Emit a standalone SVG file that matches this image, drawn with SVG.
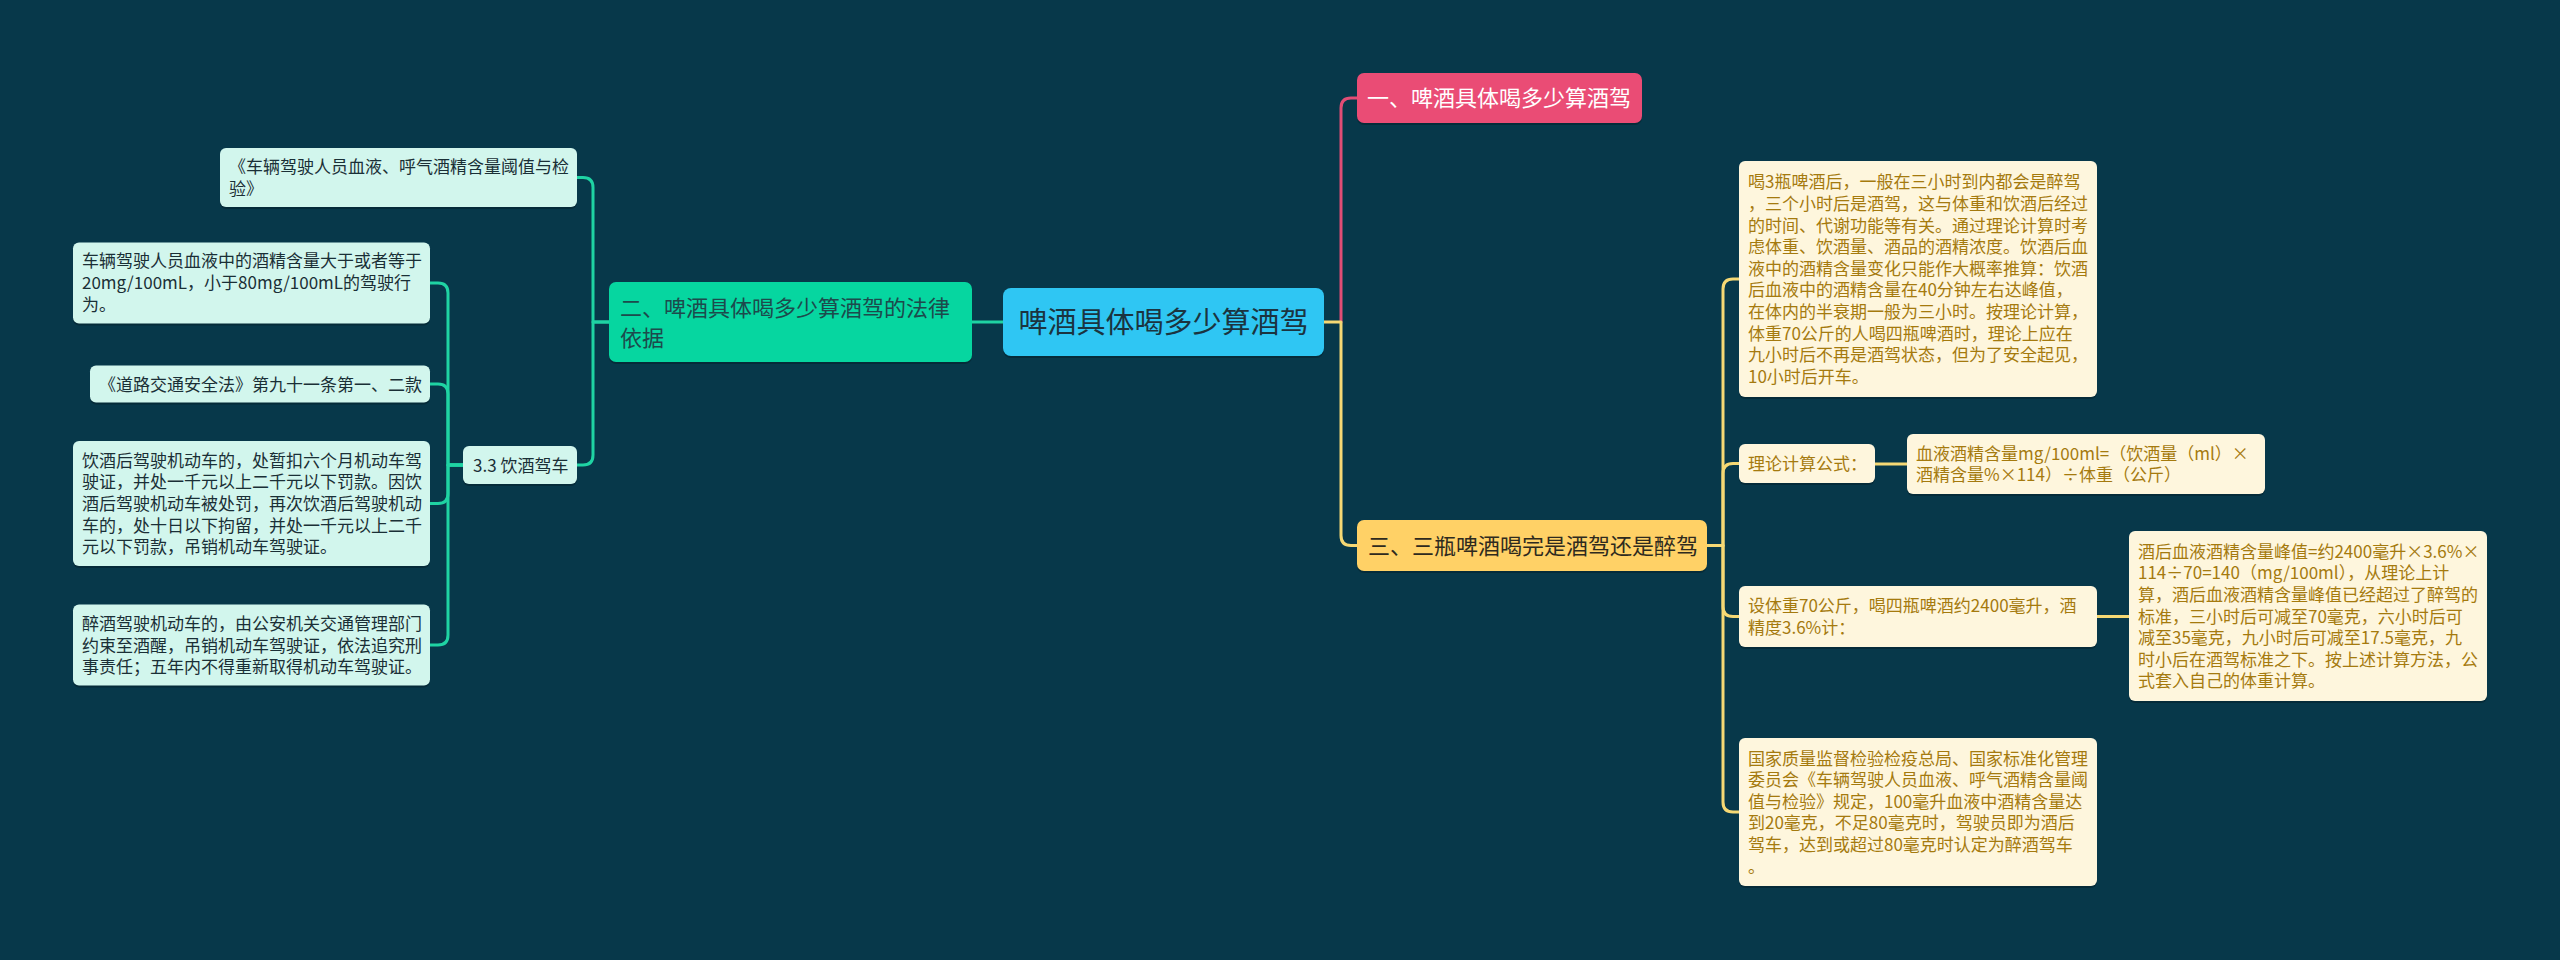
<svg xmlns="http://www.w3.org/2000/svg" width="2560" height="960" viewBox="0 0 2560 960">
<defs>
<style>
text{font-family:"Noto Sans CJK SC","Noto Sans",sans-serif;}
.shadow{fill:#000;opacity:0.22;}
.center rect.box{fill:#2fc6f3;}
.center text{font-size:29px;fill:#1b3440;}
.pink rect.box{fill:#ea4c75;}
.pink text{font-size:22px;fill:#ffffff;}
.green rect.box{fill:#06d6a0;}
.green text{font-size:22px;fill:#1d4a4c;}
.yellow rect.box{fill:#ffd166;}
.yellow text{font-size:22px;fill:#2e2a1e;}
.mint rect.box{fill:#d2f6ed;}
.mint text{font-size:17px;fill:#1a2f36;}
.cream rect.box{fill:#fef6dd;}
.cream text{font-size:17px;fill:#a57a0e;}
.conn path{fill:none;stroke-width:3;stroke-linecap:round;stroke-linejoin:round;}
.c-teal{stroke:#1fd3a3;}
.c-pink{stroke:#e04d75;}
.c-yel{stroke:#f5d874;}
</style>
</defs>
<rect x="0" y="0" width="2560" height="960" fill="#07384a"/>

<g id="connectors" class="conn">
<path class="c-teal" d="M1003,322 H972"/>
<path class="c-teal" d="M609,322 H593 V187.5 Q593,177.5 583,177.5 H577"/>
<path class="c-teal" d="M609,322 H593 V455 Q593,465 583,465 H577"/>
<path class="c-teal" d="M463,465 H448 V293 Q448,283 438,283 H430"/>
<path class="c-teal" d="M463,465 H448 V394 Q448,384 438,384 H430"/>
<path class="c-teal" d="M463,465 H448 V493.5 Q448,503.5 438,503.5 H430"/>
<path class="c-teal" d="M463,465 H448 V635 Q448,645 438,645 H430"/>
<path class="c-pink" d="M1341,322 V108 Q1341,98 1351,98 H1357"/>
<path class="c-yel" d="M1324,322 H1341 V535.5 Q1341,545.5 1351,545.5 H1357"/>
<path class="c-yel" d="M1707,545.5 H1723 V289 Q1723,279 1733,279 H1739"/>
<path class="c-yel" d="M1707,545.5 H1723 V473.5 Q1723,463.5 1733,463.5 H1739"/>
<path class="c-yel" d="M1707,545.5 H1723 V606.5 Q1723,616.5 1733,616.5 H1739"/>
<path class="c-yel" d="M1707,545.5 H1723 V802 Q1723,812 1733,812 H1739"/>
<path class="c-yel" d="M1875,464 H1907"/>
<path class="c-yel" d="M2097,616.5 H2129"/>
</g>

<g id="node-center" class="center">
<rect class="shadow" x="1003" y="290" width="321" height="68" rx="8"/>
<rect class="box" x="1003" y="288" width="321" height="68" rx="8"/>
<text x="1163.5" y="333" text-anchor="middle">啤酒具体喝多少算酒驾</text>
</g>

<g id="node-1" class="pink">
<rect class="shadow" x="1357" y="75" width="285" height="50" rx="7"/>
<rect class="box" x="1357" y="73" width="285" height="50" rx="7"/>
<text x="1367" y="106.4">一、啤酒具体喝多少算酒驾</text>
</g>

<g id="node-2" class="green">
<rect class="shadow" x="609" y="284" width="363" height="80" rx="7"/>
<rect class="box" x="609" y="282" width="363" height="80" rx="7"/>
<text x="620" y="316">二、啤酒具体喝多少算酒驾的法律</text>
<text x="620" y="345.5">依据</text>
</g>

<g id="node-3" class="yellow">
<rect class="shadow" x="1357" y="522" width="350" height="51" rx="7"/>
<rect class="box" x="1357" y="520" width="350" height="51" rx="7"/>
<text x="1368" y="554">三、三瓶啤酒喝完是酒驾还是醉驾</text>
</g>

<g id="node-2-1" class="mint">
<rect class="shadow" x="220" y="150" width="357" height="59" rx="6"/>
<rect class="box" x="220" y="148" width="357" height="59" rx="6"/>
<text x="229" y="173.2">《车辆驾驶人员血液、呼气酒精含量阈值与检</text>
<text x="229" y="194.9">验》</text>
</g>

<g id="node-2-2" class="mint">
<rect class="shadow" x="463" y="448" width="114" height="38" rx="6"/>
<rect class="box" x="463" y="446" width="114" height="38" rx="6"/>
<text x="473" y="471.5">3.3 饮酒驾车</text>
</g>

<g id="node-2-2-1" class="mint">
<rect class="shadow" x="73" y="244.5" width="357" height="81" rx="6"/>
<rect class="box" x="73" y="242.5" width="357" height="81" rx="6"/>
<text x="82" y="267.3">车辆驾驶人员血液中的酒精含量大于或者等于</text>
<text x="82" y="289">20mg/100mL，小于80mg/100mL的驾驶行</text>
<text x="82" y="310.7">为。</text>
</g>

<g id="node-2-2-2" class="mint">
<rect class="shadow" x="90" y="367.5" width="340" height="37" rx="6"/>
<rect class="box" x="90" y="365.5" width="340" height="37" rx="6"/>
<text x="99" y="390.5">《道路交通安全法》第九十一条第一、二款</text>
</g>

<g id="node-2-2-3" class="mint">
<rect class="shadow" x="73" y="443" width="357" height="125" rx="6"/>
<rect class="box" x="73" y="441" width="357" height="125" rx="6"/>
<text x="82" y="466.6">饮酒后驾驶机动车的，处暂扣六个月机动车驾</text>
<text x="82" y="488.3">驶证，并处一千元以上二千元以下罚款。因饮</text>
<text x="82" y="510">酒后驾驶机动车被处罚，再次饮酒后驾驶机动</text>
<text x="82" y="531.7">车的，处十日以下拘留，并处一千元以上二千</text>
<text x="82" y="553.4">元以下罚款，吊销机动车驾驶证。</text>
</g>

<g id="node-2-2-4" class="mint">
<rect class="shadow" x="73" y="606.5" width="357" height="81" rx="6"/>
<rect class="box" x="73" y="604.5" width="357" height="81" rx="6"/>
<text x="82" y="629.8">醉酒驾驶机动车的，由公安机关交通管理部门</text>
<text x="82" y="651.5">约束至酒醒，吊销机动车驾驶证，依法追究刑</text>
<text x="82" y="673.2">事责任；五年内不得重新取得机动车驾驶证。</text>
</g>

<g id="node-3-1" class="cream">
<rect class="shadow" x="1739" y="163" width="358" height="236" rx="6"/>
<rect class="box" x="1739" y="161" width="358" height="236" rx="6"/>
<text x="1748" y="188.3">喝3瓶啤酒后，一般在三小时到内都会是醉驾</text>
<text x="1748" y="209.9">，三个小时后是酒驾，这与体重和饮酒后经过</text>
<text x="1748" y="231.5">的时间、代谢功能等有关。通过理论计算时考</text>
<text x="1748" y="253.1">虑体重、饮酒量、酒品的酒精浓度。饮酒后血</text>
<text x="1748" y="274.7">液中的酒精含量变化只能作大概率推算：饮酒</text>
<text x="1748" y="296.3">后血液中的酒精含量在40分钟左右达峰值，</text>
<text x="1748" y="317.9">在体内的半衰期一般为三小时。按理论计算，</text>
<text x="1748" y="339.5">体重70公斤的人喝四瓶啤酒时，理论上应在</text>
<text x="1748" y="361.1">九小时后不再是酒驾状态，但为了安全起见，</text>
<text x="1748" y="382.7">10小时后开车。</text>
</g>

<g id="node-3-2" class="cream">
<rect class="shadow" x="1739" y="446" width="136" height="39" rx="6"/>
<rect class="box" x="1739" y="444" width="136" height="39" rx="6"/>
<text x="1748" y="470">理论计算公式：</text>
</g>

<g id="node-3-2-1" class="cream">
<rect class="shadow" x="1907" y="436" width="358" height="60" rx="6"/>
<rect class="box" x="1907" y="434" width="358" height="60" rx="6"/>
<text x="1916" y="459.7">血液酒精含量mg/100ml=（饮酒量（ml）×</text>
<text x="1916" y="481.3">酒精含量%×114）÷体重（公斤）</text>
</g>

<g id="node-3-3" class="cream">
<rect class="shadow" x="1739" y="588" width="358" height="61" rx="6"/>
<rect class="box" x="1739" y="586" width="358" height="61" rx="6"/>
<text x="1748" y="612.2">设体重70公斤，喝四瓶啤酒约2400毫升，酒</text>
<text x="1748" y="633.8">精度3.6%计：</text>
</g>

<g id="node-3-3-1" class="cream">
<rect class="shadow" x="2129" y="533" width="358" height="170" rx="6"/>
<rect class="box" x="2129" y="531" width="358" height="170" rx="6"/>
<text x="2138" y="557.7">酒后血液酒精含量峰值=约2400毫升×3.6%×</text>
<text x="2138" y="579.3">114÷70=140（mg/100ml），从理论上计</text>
<text x="2138" y="600.9">算，酒后血液酒精含量峰值已经超过了醉驾的</text>
<text x="2138" y="622.5">标准，三小时后可减至70毫克，六小时后可</text>
<text x="2138" y="644.1">减至35毫克，九小时后可减至17.5毫克，九</text>
<text x="2138" y="665.7">时小后在酒驾标准之下。按上述计算方法，公</text>
<text x="2138" y="687.3">式套入自己的体重计算。</text>
</g>

<g id="node-3-4" class="cream">
<rect class="shadow" x="1739" y="740" width="358" height="148" rx="6"/>
<rect class="box" x="1739" y="738" width="358" height="148" rx="6"/>
<text x="1748" y="764.5">国家质量监督检验检疫总局、国家标准化管理</text>
<text x="1748" y="786.1">委员会《车辆驾驶人员血液、呼气酒精含量阈</text>
<text x="1748" y="807.7">值与检验》规定，100毫升血液中酒精含量达</text>
<text x="1748" y="829.3">到20毫克，不足80毫克时，驾驶员即为酒后</text>
<text x="1748" y="850.9">驾车，达到或超过80毫克时认定为醉酒驾车</text>
<text x="1748" y="872.5">。</text>
</g>
</svg>
